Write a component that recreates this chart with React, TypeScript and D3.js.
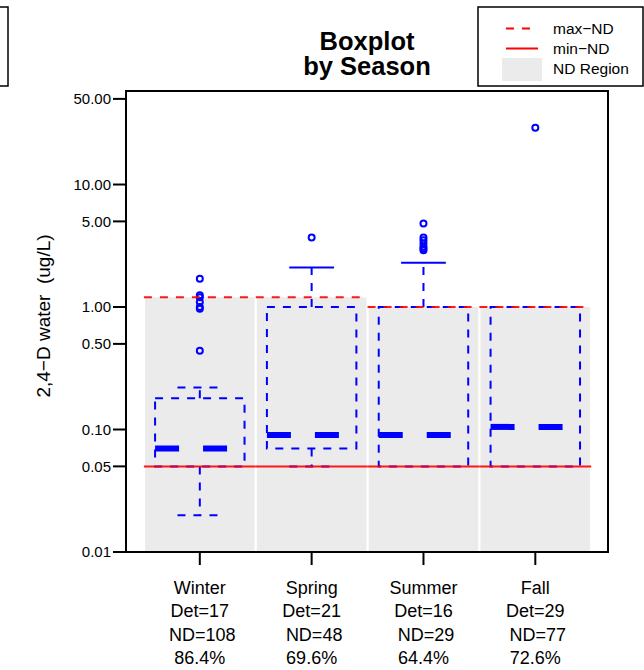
import React from "react";
import * as d3 from "d3";

const categories = ["Winter", "Spring", "Summer", "Fall"];
const detCounts = [17, 21, 16, 29];
const ndCounts = [108, 48, 29, 77];
const ndPercents = ["86.4%", "69.6%", "64.4%", "72.6%"];
const maxND = [1.2, 1.2, 1.0, 1.0];
const minND = [0.05, 0.05, 0.05, 0.05];
const whiskerLow = [0.02, 0.05, 0.05, 0.05];
const boxLow = [0.05, 0.07, 0.05, 0.05];
const medians = [0.07, 0.09, 0.09, 0.105];
const boxHigh = [0.18, 1.0, 1.0, 1.0];
const whiskerHigh = [0.22, 2.1, 2.3, 1.0];
const outliers = [
  [1.7, 1.25, 1.2, 1.1, 1.0, 0.97, 0.44],
  [3.7],
  [4.8, 3.7, 3.5, 3.3, 3.1, 3.0, 2.9],
  [29],
];
const yTicks = [0.01, 0.05, 0.1, 0.5, 1, 5, 10, 50];
const titleLines = ["Boxplot", "by Season"];
const yLabel = "2,4\u2212D water  (ug/L)";
const legendItems = ["max\u2212ND", "min\u2212ND", "ND Region"];

const W = 644;
const H = 670;
const FONT = "'Liberation Sans', Arial, Helvetica, sans-serif";
const BLUE = "#0000ff";
const RED = "#ff0000";
const GRAY = "#ebebeb";

export default function App() {
  const left = 126, right = 608, top = 91, bottom = 552;
  const x = d3.scaleLinear().domain([0.34, 4.65]).range([left, right]);
  const y = d3.scaleLog().domain([0.01, 58]).range([bottom, top]);
  const fmt = d3.format(".2f");
  const boxHalf = 0.4;
  const stapleHalf = 0.2;
  const regionHalf = 0.49;
  const lineHalf = 0.5;
  const dash = "8,8";

  return (
    <svg
      width={W}
      height={H}
      style={{ position: "absolute", left: 0, top: 0, background: "#fff" }}
      fontFamily={FONT}
    >
      <rect x={0} y={0} width={W} height={H} fill="#fff" />
      {/* clipped box at far left */}
      <rect x={-50} y={7} width={58} height={79} fill="none" stroke="#000" strokeWidth={1.5} />

      {/* ND regions */}
      {categories.map((c, i) => (
        <rect
          key={"nd" + c}
          x={x(i + 1 - regionHalf)}
          y={y(maxND[i])}
          width={x(i + 1 + regionHalf) - x(i + 1 - regionHalf)}
          height={y(0.01) - y(maxND[i])}
          fill={GRAY}
        />
      ))}

      {/* boxes */}
      {categories.map((c, i) => {
        const cx = x(i + 1);
        const bl = x(i + 1 - boxHalf);
        const br = x(i + 1 + boxHalf);
        const sl = x(i + 1 - stapleHalf);
        const sr = x(i + 1 + stapleHalf);
        const hiDash = whiskerHigh[i] <= maxND[i] ? dash : undefined;
        const loDash = whiskerLow[i] <= maxND[i] ? dash : undefined;
        return (
          <g key={"box" + c} stroke={BLUE} fill="none" strokeWidth={2}>
            {whiskerHigh[i] > boxHigh[i] && (
              <>
                <line x1={cx} x2={cx} y1={y(boxHigh[i])} y2={y(whiskerHigh[i])} strokeDasharray={dash} />
                <line x1={sl} x2={sr} y1={y(whiskerHigh[i])} y2={y(whiskerHigh[i])} strokeDasharray={hiDash} />
              </>
            )}
            {whiskerLow[i] < boxLow[i] && (
              <>
                <line x1={cx} x2={cx} y1={y(boxLow[i])} y2={y(whiskerLow[i])} strokeDasharray={dash} />
                <line x1={sl} x2={sr} y1={y(whiskerLow[i])} y2={y(whiskerLow[i])} strokeDasharray={loDash} />
              </>
            )}
            <rect
              x={bl}
              y={y(boxHigh[i])}
              width={br - bl}
              height={y(boxLow[i]) - y(boxHigh[i])}
              strokeDasharray={dash}
            />
            <line
              x1={bl}
              x2={br}
              y1={y(medians[i])}
              y2={y(medians[i])}
              strokeWidth={6}
              strokeDasharray="24,24"
            />
            {outliers[i].map((v, j) => (
              <circle key={j} cx={cx} cy={y(v)} r={3} strokeWidth={2} />
            ))}
          </g>
        );
      })}

      {/* ND lines */}
      {categories.map((c, i) => (
        <g key={"ndl" + c} stroke={RED} strokeWidth={2} opacity={0.9}>
          <line
            x1={x(i + 1 - lineHalf)}
            x2={x(i + 1 + lineHalf)}
            y1={y(maxND[i])}
            y2={y(maxND[i])}
            strokeDasharray={dash}
          />
          <line
            x1={x(i + 1 - lineHalf)}
            x2={x(i + 1 + lineHalf)}
            y1={y(minND[i])}
            y2={y(minND[i])}
          />
        </g>
      ))}

      {/* plot frame */}
      <rect x={left} y={top} width={right - left} height={bottom - top} fill="none" stroke="#000" strokeWidth={2} />

      {/* y axis */}
      {yTicks.map((t) => (
        <g key={"yt" + t}>
          <line x1={left - 13} x2={left} y1={y(t)} y2={y(t)} stroke="#000" strokeWidth={2} />
          <text x={left - 15} y={y(t)} dy="0.35em" textAnchor="end" fontSize={15} fill="#000">
            {fmt(t)}
          </text>
        </g>
      ))}
      <text
        transform={`translate(49.5,316) rotate(-90)`}
        textAnchor="middle"
        fontSize={19}
        fill="#000"
        style={{ whiteSpace: "pre" }}
      >
        {yLabel}
      </text>

      {/* x axis */}
      {categories.map((c, i) => {
        const cx = x(i + 1);
        return (
          <g key={"xt" + c}>
            <line x1={cx} x2={cx} y1={bottom} y2={bottom + 13} stroke="#000" strokeWidth={2} />
            <text x={cx} y={594} textAnchor="middle" fontSize={18} fill="#000">{c}</text>
            <text x={cx} y={617.3} textAnchor="middle" fontSize={18} fill="#000">{`Det=${detCounts[i]}`}</text>
            <text x={cx + 2.5} y={640.6} textAnchor="middle" fontSize={18} fill="#000">{`ND=${ndCounts[i]}`}</text>
            <text x={cx} y={663.5} textAnchor="middle" fontSize={18} fill="#000">{ndPercents[i]}</text>
          </g>
        );
      })}

      {/* title */}
      {titleLines.map((t, i) => (
        <text
          key={t}
          x={(left + right) / 2}
          y={49.5 + i * 25.5}
          textAnchor="middle"
          fontSize={25.5}
          fontWeight="bold"
          fill="#000"
        >
          {t}
        </text>
      ))}

      {/* legend */}
      <g>
        <rect x={478} y={7} width={165} height={79} fill="#fff" stroke="#000" strokeWidth={1.5} />
        <line x1={506} x2={538} y1={28.5} y2={28.5} stroke={RED} strokeWidth={2} strokeDasharray={dash} />
        <line x1={506} x2={538} y1={48.5} y2={48.5} stroke={RED} strokeWidth={2} />
        <rect x={502} y={58} width={40} height={23} fill={GRAY} />
        {legendItems.map((t, i) => (
          <text key={t} x={553} y={34 + i * 20} fontSize={15.5} fill="#000">
            {t}
          </text>
        ))}
      </g>
    </svg>
  );
}
